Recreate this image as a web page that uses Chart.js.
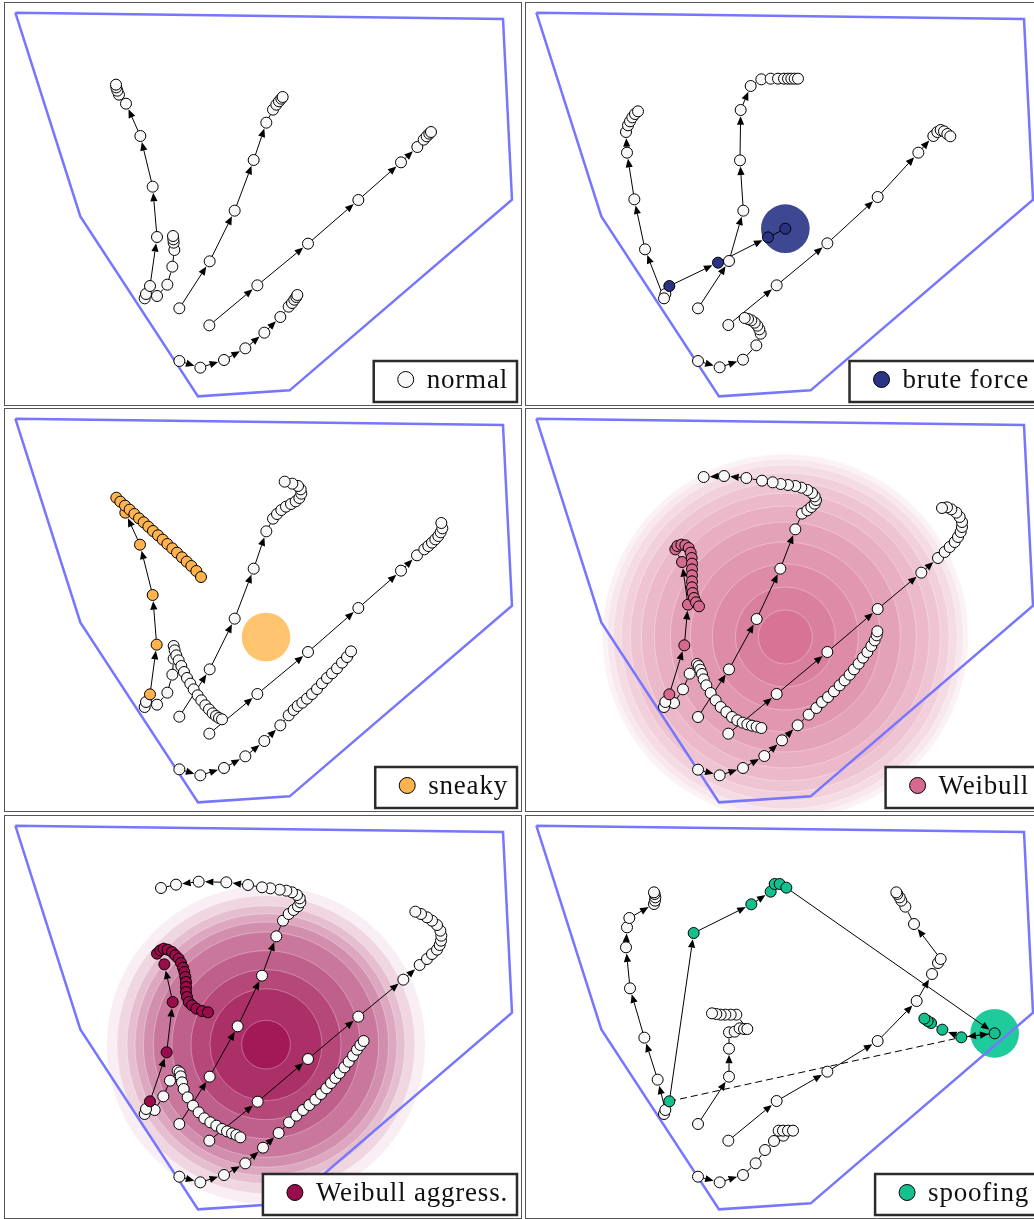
<!DOCTYPE html>
<html>
<head>
<meta charset="utf-8">
<script src="https://cdn.jsdelivr.net/npm/chart.js@4.4.1/dist/chart.umd.min.js"></script>
<style>
  body { margin: 0; background: #fff; width: 1034px; height: 1219px; overflow: hidden; position: relative; }
  .panel { position: absolute; width: 516px; height: 402px; border: 1px solid #555; background: #fff; }
  .panel canvas { display: block; }
</style>
</head>
<body>
<div class="panel" style="left:4px;top:2px"><canvas id="p0" width="516" height="402"></canvas></div>
<div class="panel" style="left:525px;top:2px"><canvas id="p1" width="516" height="402"></canvas></div>
<div class="panel" style="left:4px;top:408px"><canvas id="p2" width="516" height="402"></canvas></div>
<div class="panel" style="left:525px;top:408px"><canvas id="p3" width="516" height="402"></canvas></div>
<div class="panel" style="left:4px;top:815px"><canvas id="p4" width="516" height="402"></canvas></div>
<div class="panel" style="left:525px;top:815px"><canvas id="p5" width="516" height="402"></canvas></div>
<script>
// field boundary (x, y with y measured downwards)
const fence = [[45,40],[1508,59],[1535,601],[868,1173],[593,1191],[240,651]];

const labels = ['normal', 'brute force', 'sneaky', 'Weibull', 'Weibull aggress.', 'spoofing'];
const attackColors = ['#f8f8f8', '#2b3384', '#ffb34f', '#d6698f', '#9b0c4c', '#14c18e'];

// ---- normal traffic only
const normalRuns = [
  [[433,897],[437,884],[449,860],[470,713],[457,562],[420,410],[377,313],[356,286],[351,274],[348,264],[347,256]],
  [[470,890],[501,856],[516,802],[522,752],[520,730],[519,720],[518,710]],
  [[537,927],[628,786],[703,634],[760,482],[798,370],[818,331],[828,316],[836,306],[843,298],[847,293]],
  [[627,978],[771,858],[923,733],[1074,602],[1202,489],[1251,443],[1270,421],[1279,411],[1287,403],[1292,398]],
  [[537,1085],[600,1105],[671,1082],[735,1047],[792,1000],[840,953],[865,922],[875,911],[882,901],[888,893],[891,887]]
];

// ---- brute force
const bruteRuns = [
  [[432,884],[428,897],[371,750],[339,600],[317,460],[314,398],[320,378],[326,366],[333,354],[341,344],[350,336]],
  [[530,927],[623,785],[666,634],[656,483],[658,332],[688,260],[720,240],[748,238],[770,238],[788,238],[800,238],[810,238],[820,238],[830,238]],
  [[621,977],[766,858],[918,732],[1069,593],[1191,460],[1236,410],[1248,398],[1258,392],[1268,396],[1278,404],[1287,411]],
  [[530,1085],[595,1104],[665,1081],[705,1038],[718,1003],[714,990],[708,979],[700,970],[690,963],[680,959],[670,956]]
];
const bruteAttack = [[444,860],[590,790],[740,714],[792,688]];

// ---- sneaky
const sneakyRuns = [
  [[433,905],[437,890]],
  [[470,898],[501,862],[516,808],[520,760],[520,722],[523,735],[528,750],[535,765],[543,782],[551,800],[560,818],[570,835],[580,852],[592,870],[603,885],[615,900],[626,912],[637,924],[647,932],[656,938],[665,942]],
  [[537,934],[628,792],[703,640],[760,490],[798,378],[818,340],[830,326],[843,314],[857,304],[872,296],[886,288],[897,278],[903,265],[901,252],[893,242],[876,235],[853,229]],
  [[627,985],[771,866],[923,740],[1074,608],[1202,496],[1250,450],[1272,432],[1284,422],[1295,412],[1305,402],[1314,392],[1321,381],[1326,369],[1323,353]],
  [[537,1092],[600,1110],[671,1088],[735,1053],[792,1007],[840,960],[865,930],[880,914],[892,902],[906,892],[920,880],[935,866],[950,851],[965,834],[980,818],[995,804],[1010,789],[1025,772],[1040,755],[1052,738]]
];
const sneakyAttack = [[449,867],[469,718],[457,569],[419,418],[375,322],[348,277],[360,289],[374,301],[388,313],[402,326],[416,339],[430,351],[444,364],[458,377],[473,390],[487,403],[501,416],[516,429],[530,442],[545,456],[559,469],[573,482],[588,497],[602,515]];

// ---- Weibull
const weibullRuns = [
  [[428,905],[432,890]],
  [[458,893],[485,852],[505,805],[527,776],[532,782],[537,793],[542,806],[547,822],[555,840],[568,863],[583,885],[598,905],[615,920],[632,935],[648,945],[664,952],[678,957],[692,961],[706,964],[720,968]],
  [[530,935],[623,792],[706,641],[777,490],[822,372],[842,325],[858,315],[870,305],[880,295],[884,284],[880,273],[872,263],[858,254],[840,247],[822,242],[800,239],[778,236],[754,231],[722,226],[675,218],[608,212],[547,215]],
  [[621,985],[766,866],[918,740],[1069,611],[1200,502],[1250,458],[1270,440],[1285,425],[1300,410],[1310,395],[1318,380],[1322,365],[1322,350],[1315,335],[1305,322],[1290,312],[1277,306],[1262,308]],
  [[530,1093],[595,1110],[665,1088],[729,1052],[782,1005],[829,960],[862,928],[885,908],[902,890],[920,875],[938,858],[955,840],[970,825],[985,808],[998,792],[1012,775],[1025,757],[1038,740],[1050,722],[1060,705],[1066,690],[1068,678]]
];
const weibullAttack = [[444,867],[489,720],[500,598],[482,470],[462,432],[468,422],[480,418],[492,420],[502,428],[508,442],[511,458],[512,475],[512,492],[512,510],[512,528],[512,546],[514,563],[518,578],[524,591],[533,603]];

// ---- Weibull aggressive
const aggressRuns = [
  [[433,905],[437,890]],
  [[463,893],[489,852],[509,805],[532,775],[538,780],[541,792],[545,810],[550,830],[562,855],[578,880],[595,900],[612,918],[630,930],[648,940],[665,950],[680,957],[695,963],[708,968],[720,975]],
  [[537,935],[628,793],[712,642],[785,490],[828,372],[848,325],[865,305],[880,293],[893,282],[900,270],[898,258],[890,248],[875,240],[858,235],[838,232],[810,228],[785,225],[743,218],[678,210],[595,208],[527,217],[482,227]],
  [[627,985],[772,868],[923,740],[1074,613],[1209,502],[1258,458],[1280,440],[1295,425],[1310,412],[1318,398],[1322,385],[1323,370],[1320,355],[1310,338],[1295,325],[1280,315],[1262,305],[1245,298]],
  [[537,1093],[600,1110],[671,1088],[735,1053],[788,1006],[835,962],[866,930],[888,910],[908,893],[927,878],[945,862],[962,845],[978,828],[992,812],[1005,797],[1018,782],[1032,765],[1045,748],[1058,730],[1070,712],[1080,698],[1090,686]]
];
const aggressAttack = [[449,867],[499,720],[517,569],[492,456],[470,424],[480,414],[490,409],[502,412],[515,419],[525,429],[535,439],[542,452],[548,466],[552,479],[555,494],[557,509],[557,524],[557,539],[560,554],[565,569],[575,579],[588,589],[605,596],[623,600]];

// ---- spoofing
const spoofRuns = [
  [[428,905],[432,893],[409,802],[369,676],[326,528],[314,405],[317,345],[324,317],[398,275],[401,265],[402,255],[400,245],[398,240]],
  [[530,935],[623,793],[623,709],[623,660],[640,658],[655,648],[668,650],[678,650],[645,607],[628,607],[612,607],[598,607],[585,605],[572,603]],
  [[621,985],[766,866],[918,778],[1069,686],[1186,566],[1232,485],[1250,452],[1258,440],[1178,335],[1152,283],[1140,265],[1135,255],[1128,245],[1125,240]],
  [[530,1093],[595,1110],[665,1088],[703,1053],[731,1013],[758,986],[786,970],[772,955],[785,955],[800,955],[815,955]]
];
const spoofAttack = [[444,867],[517,362],[690,276],[748,238],[760,215],[775,215],[795,226],[1420,663],[1320,675],[1263,652],[1229,632],[1219,626],[1209,619]];
const spoofJump = [[444,867],[1320,675]];
const spoofReturn = [[1320,675],[1420,663]];

// attack zones: centre and ring radii (field units)
const zoneCentres = [null, [792,688], [797,695], [792,695], [797,697], [1420,663]];
const zoneRadii = [
  null,
  [73],
  [73],
  [81,150,219,285,345,393,432,465,492,516,534,549],
  [73,168,225,282,338,368,393,417,447,478],
  [73]
];
const zoneColors = [null, '#3e4892', '#ffc46d', [208,92,132], [158,12,78], '#1fcb9a'];

const toPts = arr => arr.map(([x, y]) => ({ x, y }));

function drawArrow(ctx, a, b) {
  const dx = b.x - a.x, dy = b.y - a.y;
  const len = Math.hypot(dx, dy);
  if (len < 7) return;
  const ux = dx / len, uy = dy / len;
  const tx = b.x - ux * 6.2, ty = b.y - uy * 6.2;
  const head = len > 20 ? 8.5 : 0;
  ctx.beginPath();
  ctx.moveTo(a.x, a.y);
  ctx.lineTo(tx - ux * head, ty - uy * head);
  ctx.stroke();
  if (!head) return;
  const bx = tx - ux * head, by = ty - uy * head;
  ctx.beginPath();
  ctx.moveTo(tx, ty);
  ctx.lineTo(bx - uy * 3.6, by + ux * 3.6);
  ctx.lineTo(bx + uy * 3.6, by - ux * 3.6);
  ctx.closePath();
  ctx.fill();
}

const zonePlugin = {
  id: 'zones',
  beforeDatasetsDraw(chart, args, opts) {
    if (!opts.centre) return;
    const ctx = chart.ctx, xs = chart.scales.x, ys = chart.scales.y;
    const cx = xs.getPixelForValue(opts.centre[0]);
    const cy = ys.getPixelForValue(opts.centre[1]);
    const n = opts.radii.length;
    ctx.save();
    for (let k = n - 1; k >= 0; k--) {
      const r = xs.getPixelForValue(opts.centre[0] + opts.radii[k]) - cx;
      let fill = opts.color;
      if (Array.isArray(opts.color)) {
        // shade grows towards the centre
        const f = opts.inner - (opts.inner - opts.outer) * k / (n - 1);
        const c = opts.color.map(v => Math.round(255 - f * (255 - v)));
        fill = `rgb(${c[0]},${c[1]},${c[2]})`;
      }
      ctx.beginPath();
      ctx.arc(cx, cy, r, 0, Math.PI * 2);
      ctx.fillStyle = fill;
      ctx.fill();
      if (n > 1) {
        ctx.strokeStyle = 'rgba(255,255,255,0.3)';
        ctx.lineWidth = 1;
        ctx.stroke();
      }
    }
    ctx.restore();
  }
};

const arrowPlugin = {
  id: 'trackArrows',
  beforeDatasetsDraw(chart) {
    const ctx = chart.ctx;
    ctx.save();
    ctx.strokeStyle = '#000';
    ctx.fillStyle = '#000';
    ctx.lineWidth = 1;
    chart.data.datasets.forEach((ds, i) => {
      if (!ds.arrows) return;
      const els = chart.getDatasetMeta(i).data;
      for (let k = 1; k < els.length; k++) drawArrow(ctx, els[k - 1], els[k]);
    });
    ctx.restore();
  }
};

const keyPlugin = {
  id: 'cornerKey',
  afterDraw(chart, args, o) {
    const ctx = chart.ctx;
    ctx.save();
    ctx.font = '27px "Liberation Serif"';
    ctx.letterSpacing = '0.8px';
    const tw = ctx.measureText(o.text).width;
    const right = chart.width - 4, bottom = chart.height - 3;
    const w = 53 + tw + 9, h = 41;
    const left = right - w, top = bottom - h;
    ctx.fillStyle = '#fff';
    ctx.fillRect(left, top, w, h);
    ctx.lineWidth = 2.5;
    ctx.strokeStyle = '#2b2b2b';
    ctx.strokeRect(left, top, w, h);
    ctx.beginPath();
    ctx.arc(left + 32, top + 18.5, 8, 0, Math.PI * 2);
    ctx.fillStyle = o.color;
    ctx.fill();
    ctx.lineWidth = 1;
    ctx.strokeStyle = '#000';
    ctx.stroke();
    ctx.fillStyle = '#111';
    ctx.textBaseline = 'alphabetic';
    ctx.fillText(o.text, left + 53, top + 27);
    ctx.restore();
  }
};

function track(run, color, order) {
  return {
    data: toPts(run),
    arrows: true,
    backgroundColor: color,
    borderColor: '#000',
    borderWidth: 1,
    pointRadius: 5.5,
    order
  };
}

function makePanel(idx, runs, attack, extra) {
  const datasets = [{
    data: toPts(fence.concat([fence[0]])),
    showLine: true,
    borderColor: '#7676ff',
    borderWidth: 2.5,
    pointRadius: 0,
    order: 4
  }];
  runs.forEach(r => datasets.push(track(r, '#f8f8f8', 2)));
  if (attack) datasets.push(track(attack, attackColors[idx], 1));
  (extra || []).forEach(d => datasets.push(d));

  const zone = {};
  if (zoneCentres[idx]) {
    zone.centre = zoneCentres[idx];
    zone.radii = zoneRadii[idx];
    zone.color = zoneColors[idx];
    zone.inner = idx === 4 ? 0.95 : 0.85;
    zone.outer = idx === 4 ? 0.07 : 0.08;
  }

  new Chart(document.getElementById('p' + idx), {
    type: 'scatter',
    data: { datasets },
    options: {
      responsive: false,
      animation: false,
      devicePixelRatio: 1,
      events: [],
      layout: { padding: 0, autoPadding: false },
      scales: {
        x: { type: 'linear', display: false, min: 14, max: 14 + 516 * 3 },
        y: { type: 'linear', display: false, min: 11, max: 11 + 402 * 3, reverse: true }
      },
      plugins: {
        legend: { display: false },
        tooltip: { enabled: false },
        zones: zone,
        cornerKey: { text: labels[idx], color: attackColors[idx] }
      }
    },
    plugins: [zonePlugin, arrowPlugin, keyPlugin]
  });
}

makePanel(0, normalRuns, null);
makePanel(1, bruteRuns, bruteAttack);
makePanel(2, sneakyRuns, sneakyAttack);
makePanel(3, weibullRuns, weibullAttack);
makePanel(4, aggressRuns, aggressAttack);
makePanel(5, spoofRuns, spoofAttack, [
  { data: toPts(spoofJump), showLine: true, borderColor: '#000', borderWidth: 1, borderDash: [7, 4], pointRadius: 0, order: 3 },
  { data: toPts(spoofReturn), arrows: true, pointRadius: 0, order: 3 }
]);
</script>
</body>
</html>
